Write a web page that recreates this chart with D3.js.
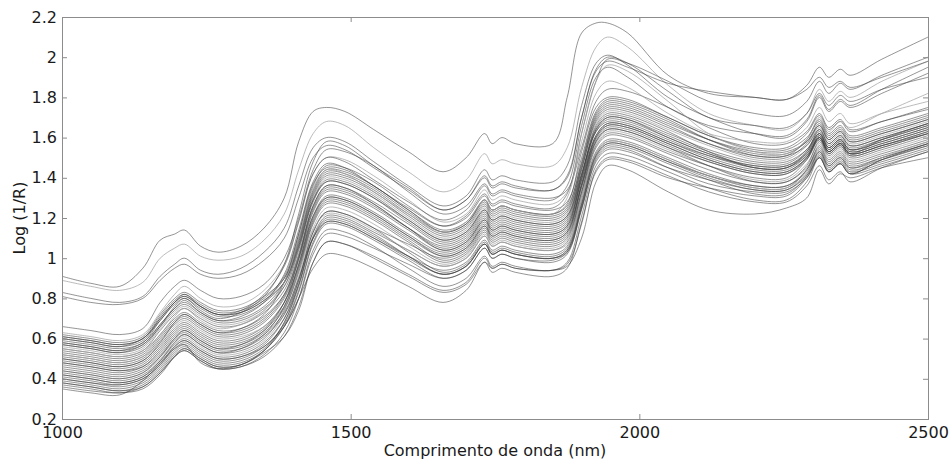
<!DOCTYPE html>
<html>
<head>
<meta charset="utf-8">
<title>Espectros NIR</title>
<script src="https://cdn.jsdelivr.net/npm/d3@7"></script>
<style>
  body { margin: 0; background: #fff; }
  .tick text { font-family: "DejaVu Sans", sans-serif; font-size: 16px; fill: #1a1a1a; }
  .tick line { stroke: #8c8c8c; }
  .frame { fill: none; stroke: #8c8c8c; stroke-width: 1; }
  .spec { fill: none; stroke: #3a3a3a; stroke-width: 0.8; stroke-opacity: 0.68; }
  .spec.light { stroke: #a0a0a0; stroke-opacity: 0.9; }
  .title { font-family: "DejaVu Sans", sans-serif; font-size: 16px; fill: #1a1a1a; }
</style>
</head>
<body>
<script>

var wavelengths = [1000,1050,1100,1140,1170,1195,1212,1240,1270,1310,1350,1385,1410,1435,1458,1490,1540,1600,1660,1700,
                   1732,1745,1762,1785,1850,1875,1900,1925,1945,1980,2050,2120,2200,2255,2290,2312,2328,2348,2365,2420,2500];

var xTicks = [1000, 1500, 2000, 2500];
var yTicks = [0.2, 0.4, 0.6, 0.8, 1.0, 1.2, 1.4, 1.6, 1.8, 2.0, 2.2];

// log(1/R) per spectrum
var specH1 = [.91,.875,.86,.95,1.09,1.12,1.14,1.06,1.03,1.06,1.15,1.30,1.58,1.73,1.75,1.73,1.64,1.53,1.43,1.50,1.62,1.57,1.60,1.57,1.57,1.80,2.12,2.17,2.17,2.12,1.91,1.82,1.80,1.79,1.86,1.95,1.90,1.94,1.91,1.99,2.10];
var specH2 = [.89,.86,.84,.88,1.00,1.05,1.07,1.01,.99,1.01,1.09,1.22,1.44,1.62,1.68,1.66,1.55,1.43,1.33,1.39,1.52,1.47,1.49,1.47,1.46,1.55,1.85,2.05,2.10,2.05,1.86,1.72,1.66,1.64,1.72,1.84,1.78,1.83,1.80,1.88,1.98];
var specH3 = [.83,.80,.78,.81,.91,.97,1.00,.94,.92,.95,1.03,1.15,1.36,1.55,1.60,1.58,1.48,1.36,1.26,1.31,1.44,1.39,1.41,1.39,1.38,1.46,1.76,1.97,2.01,1.96,1.80,1.70,1.62,1.60,1.68,1.80,1.73,1.78,1.75,1.82,1.92];
var specH4 = [.81,.78,.77,.80,.89,.95,.97,.92,.90,.92,.99,1.10,1.30,1.50,1.56,1.54,1.45,1.34,1.24,1.29,1.40,1.35,1.37,1.35,1.34,1.40,1.70,1.93,1.98,1.95,1.87,1.83,1.80,1.79,1.84,1.90,1.85,1.88,1.85,1.90,1.98];
var specH5 = [.60,.58,.56,.60,.69,.78,.82,.76,.72,.74,.82,.96,1.18,1.42,1.50,1.48,1.39,1.28,1.19,1.24,1.36,1.31,1.33,1.31,1.29,1.36,1.66,1.90,1.95,1.90,1.75,1.66,1.62,1.61,1.69,1.81,1.74,1.79,1.76,1.84,1.95];
var specH6 = [.58,.56,.54,.58,.67,.75,.79,.73,.69,.71,.78,.92,1.14,1.38,1.47,1.45,1.36,1.25,1.16,1.21,1.32,1.27,1.29,1.27,1.25,1.32,1.62,1.88,1.99,1.97,1.88,1.78,1.72,1.71,1.78,1.88,1.82,1.87,1.84,1.91,2.00];
var specH7 = [.55,.53,.51,.54,.62,.71,.75,.69,.65,.67,.74,.88,1.10,1.35,1.44,1.42,1.33,1.22,1.13,1.18,1.29,1.24,1.26,1.24,1.22,1.30,1.62,1.88,1.96,1.93,1.78,1.62,1.53,1.52,1.59,1.70,1.63,1.68,1.65,1.72,1.82];
var specH8 = [.57,.55,.53,.57,.66,.76,.80,.74,.70,.73,.81,.97,1.22,1.48,1.58,1.56,1.46,1.35,1.24,1.29,1.41,1.36,1.38,1.36,1.34,1.41,1.70,1.94,2.00,1.97,1.83,1.70,1.66,1.65,1.72,1.82,1.76,1.81,1.78,1.84,1.90];

var specS01 = [.37,.35,.33,.36,.43,.51,.54,.49,.45,.46,.52,.63,.80,1.04,1.14,1.13,1.06,.95,.86,.90,1.01,.96,.98,.96,.94,.98,1.21,1.46,1.52,1.51,1.43,1.35,1.29,1.29,1.38,1.50,1.43,1.47,1.42,1.46,1.53];
var specS02 = [.38,.36,.34,.37,.44,.52,.55,.50,.46,.47,.53,.61,.74,.98,1.08,1.07,1.00,.91,.83,.87,.98,.93,.95,.93,.91,.95,1.18,1.43,1.49,1.48,1.40,1.35,1.31,1.31,1.40,1.51,1.44,1.48,1.43,1.47,1.54];
var specS03 = [.39,.37,.35,.38,.45,.53,.56,.51,.47,.48,.54,.66,.83,1.07,1.17,1.16,1.09,.99,.90,.94,1.05,1.00,1.02,1.00,.98,1.02,1.25,1.50,1.56,1.55,1.47,1.39,1.32,1.32,1.41,1.53,1.46,1.50,1.45,1.49,1.56];
var specS04 = [.40,.38,.36,.39,.46,.54,.57,.52,.48,.49,.55,.68,.86,1.10,1.20,1.19,1.12,1.01,.92,.96,1.07,1.02,1.04,1.02,1.00,1.04,1.25,1.48,1.54,1.53,1.45,1.39,1.34,1.34,1.42,1.52,1.45,1.49,1.44,1.48,1.55];
var specS05 = [.41,.39,.37,.40,.47,.55,.58,.53,.49,.50,.56,.67,.84,1.08,1.18,1.17,1.10,1.01,.94,.98,1.09,1.04,1.06,1.04,1.02,1.06,1.29,1.53,1.59,1.58,1.50,1.42,1.36,1.36,1.44,1.54,1.47,1.51,1.46,1.50,1.57];
var specS06 = [.42,.40,.38,.41,.48,.56,.59,.54,.50,.51,.57,.70,.89,1.13,1.23,1.22,1.15,1.03,.93,.97,1.08,1.03,1.05,1.03,1.01,1.05,1.27,1.51,1.57,1.56,1.48,1.41,1.35,1.35,1.44,1.56,1.49,1.53,1.48,1.52,1.59];
var specS07 = [.43,.41,.39,.42,.49,.57,.60,.55,.51,.52,.58,.70,.87,1.11,1.21,1.20,1.13,1.04,.96,1.00,1.11,1.06,1.08,1.06,1.04,1.08,1.31,1.55,1.61,1.60,1.52,1.44,1.38,1.38,1.45,1.55,1.48,1.52,1.47,1.51,1.58];
var specS08 = [.44,.42,.40,.43,.50,.58,.61,.56,.52,.53,.59,.72,.91,1.15,1.25,1.24,1.17,1.06,.97,1.01,1.12,1.07,1.09,1.07,1.05,1.09,1.32,1.57,1.63,1.62,1.54,1.46,1.39,1.39,1.47,1.57,1.50,1.54,1.49,1.53,1.60];
var specS09 = [.45,.43,.41,.44,.51,.59,.62,.57,.53,.54,.60,.74,.93,1.17,1.27,1.26,1.19,1.08,.98,1.02,1.13,1.08,1.10,1.08,1.06,1.10,1.33,1.58,1.64,1.63,1.55,1.46,1.38,1.38,1.46,1.58,1.51,1.55,1.50,1.54,1.61];
var specS10 = [.46,.44,.42,.45,.52,.60,.63,.58,.54,.55,.61,.72,.89,1.13,1.23,1.22,1.15,1.07,1.00,1.04,1.15,1.10,1.12,1.10,1.08,1.12,1.35,1.59,1.65,1.64,1.56,1.48,1.42,1.42,1.49,1.59,1.52,1.56,1.51,1.55,1.62];
var specS11 = [.47,.45,.43,.46,.54,.62,.65,.60,.56,.57,.63,.75,.94,1.18,1.28,1.27,1.20,1.09,.99,1.03,1.14,1.09,1.11,1.09,1.07,1.11,1.33,1.56,1.62,1.61,1.53,1.46,1.40,1.40,1.49,1.60,1.53,1.57,1.52,1.56,1.63];
var specS12 = [.48,.46,.44,.47,.55,.63,.66,.61,.57,.58,.64,.76,.95,1.19,1.29,1.28,1.21,1.10,1.01,1.05,1.16,1.11,1.13,1.11,1.09,1.13,1.36,1.60,1.66,1.65,1.57,1.49,1.43,1.43,1.50,1.59,1.52,1.56,1.51,1.55,1.62];
var specS13 = [.49,.47,.45,.48,.56,.64,.67,.62,.58,.59,.65,.78,.97,1.21,1.31,1.30,1.23,1.12,1.03,1.07,1.18,1.13,1.15,1.13,1.11,1.15,1.36,1.58,1.64,1.63,1.55,1.48,1.42,1.42,1.50,1.61,1.54,1.58,1.53,1.57,1.64];
var specS14 = [.50,.48,.46,.49,.57,.65,.68,.63,.59,.60,.66,.78,.96,1.20,1.30,1.29,1.22,1.11,1.02,1.06,1.17,1.12,1.14,1.12,1.10,1.14,1.37,1.61,1.67,1.66,1.58,1.50,1.44,1.44,1.51,1.60,1.53,1.57,1.52,1.56,1.63];
var specS15 = [.51,.49,.47,.50,.59,.67,.70,.65,.61,.62,.68,.80,.99,1.23,1.33,1.32,1.25,1.14,1.04,1.08,1.19,1.14,1.16,1.14,1.12,1.16,1.39,1.63,1.69,1.68,1.60,1.52,1.45,1.45,1.52,1.62,1.55,1.59,1.54,1.58,1.65];
var specS16 = [.52,.50,.48,.51,.60,.68,.71,.66,.62,.63,.69,.81,1.00,1.24,1.34,1.33,1.26,1.15,1.06,1.10,1.21,1.16,1.18,1.16,1.14,1.18,1.39,1.61,1.67,1.66,1.58,1.51,1.46,1.46,1.52,1.61,1.54,1.58,1.53,1.57,1.64];
var specS17 = [.53,.51,.49,.52,.61,.69,.72,.67,.63,.64,.70,.82,1.02,1.26,1.36,1.35,1.28,1.17,1.07,1.11,1.22,1.17,1.19,1.17,1.15,1.19,1.41,1.64,1.70,1.69,1.61,1.53,1.47,1.47,1.54,1.63,1.56,1.60,1.55,1.59,1.66];
var specS18 = [.54,.52,.50,.53,.62,.70,.73,.68,.64,.65,.71,.82,1.01,1.25,1.35,1.34,1.27,1.15,1.05,1.09,1.20,1.15,1.17,1.15,1.13,1.17,1.41,1.66,1.72,1.71,1.63,1.53,1.45,1.45,1.53,1.64,1.57,1.61,1.56,1.60,1.67];
var specS19 = [.55,.53,.51,.54,.64,.72,.75,.70,.66,.67,.73,.84,1.04,1.28,1.38,1.37,1.30,1.18,1.08,1.12,1.23,1.18,1.20,1.18,1.16,1.20,1.42,1.65,1.71,1.70,1.62,1.54,1.48,1.48,1.54,1.62,1.55,1.59,1.54,1.58,1.65];
var specS20 = [.56,.54,.52,.55,.65,.73,.76,.71,.67,.68,.74,.86,1.06,1.30,1.40,1.39,1.32,1.20,1.10,1.14,1.25,1.20,1.22,1.20,1.18,1.22,1.44,1.67,1.73,1.72,1.64,1.56,1.49,1.49,1.56,1.65,1.58,1.62,1.57,1.61,1.68];
var specS21 = [.57,.55,.53,.56,.66,.74,.77,.72,.68,.69,.75,.86,1.05,1.29,1.39,1.38,1.31,1.19,1.09,1.13,1.24,1.19,1.21,1.19,1.17,1.21,1.44,1.69,1.75,1.74,1.66,1.57,1.50,1.50,1.57,1.66,1.59,1.63,1.58,1.62,1.69];
var specS22 = [.58,.56,.54,.57,.67,.75,.78,.73,.69,.70,.76,.88,1.08,1.32,1.42,1.41,1.34,1.22,1.12,1.16,1.27,1.22,1.24,1.22,1.20,1.24,1.45,1.68,1.74,1.73,1.65,1.57,1.51,1.51,1.56,1.64,1.57,1.61,1.56,1.60,1.67];
var specS23 = [.59,.57,.55,.58,.69,.77,.80,.75,.71,.72,.78,.88,1.07,1.31,1.41,1.40,1.33,1.21,1.11,1.15,1.26,1.21,1.23,1.21,1.19,1.23,1.46,1.71,1.77,1.76,1.68,1.59,1.52,1.52,1.58,1.67,1.60,1.64,1.59,1.63,1.70];
var specS24 = [.60,.58,.56,.59,.70,.78,.81,.76,.72,.73,.79,.90,1.10,1.34,1.44,1.43,1.36,1.24,1.14,1.18,1.29,1.24,1.26,1.24,1.22,1.26,1.47,1.70,1.76,1.75,1.67,1.59,1.53,1.53,1.58,1.66,1.59,1.63,1.58,1.62,1.69];
var specS25 = [.61,.59,.57,.60,.71,.79,.82,.77,.73,.74,.80,.91,1.12,1.36,1.46,1.45,1.38,1.26,1.16,1.20,1.31,1.26,1.28,1.26,1.24,1.28,1.50,1.73,1.79,1.78,1.70,1.61,1.54,1.54,1.60,1.68,1.61,1.65,1.60,1.64,1.71];
var specS26 = [.62,.60,.58,.61,.72,.80,.83,.78,.74,.75,.81,.90,1.09,1.33,1.43,1.42,1.35,1.23,1.13,1.17,1.28,1.23,1.25,1.23,1.21,1.25,1.48,1.72,1.78,1.77,1.69,1.59,1.51,1.51,1.59,1.69,1.62,1.66,1.61,1.65,1.72];
var specS27 = [.66,.64,.62,.65,.78,.86,.89,.84,.80,.81,.87,1.00,1.20,1.44,1.54,1.53,1.46,1.33,1.22,1.26,1.37,1.32,1.34,1.32,1.30,1.34,1.55,1.78,1.84,1.83,1.75,1.65,1.57,1.57,1.63,1.72,1.65,1.69,1.64,1.68,1.75];
var specB1  = [.35,.33,.32,.39,.48,.55,.57,.48,.45,.47,.54,.66,.80,.95,1.02,1.01,.95,.86,.78,.84,.98,.95,.97,.95,.94,.96,1.10,1.38,1.46,1.44,1.33,1.24,1.22,1.25,1.30,1.44,1.37,1.42,1.40,1.45,1.50];

var specX01 = [.44,.42,.40,.43,.51,.60,.64,.59,.55,.57,.64,.78,1.00,1.26,1.36,1.35,1.27,1.15,1.04,1.08,1.19,1.14,1.16,1.14,1.12,1.16,1.40,1.64,1.70,1.69,1.60,1.52,1.46,1.46,1.53,1.62,1.55,1.59,1.54,1.59,1.66];
var specX02 = [.40,.38,.37,.40,.47,.56,.59,.54,.50,.51,.56,.66,.80,1.02,1.12,1.11,1.05,.97,.90,.94,1.05,1.00,1.02,1.00,.99,1.03,1.26,1.52,1.58,1.57,1.49,1.41,1.36,1.36,1.43,1.53,1.46,1.50,1.45,1.50,1.57];
var specX03 = [.52,.50,.48,.51,.58,.66,.69,.64,.60,.61,.66,.76,.94,1.14,1.22,1.21,1.14,1.04,.96,1.00,1.11,1.06,1.08,1.06,1.04,1.07,1.28,1.52,1.58,1.57,1.49,1.41,1.35,1.35,1.42,1.51,1.44,1.48,1.43,1.50,1.58];
var specX04 = [.61,.59,.57,.60,.70,.78,.81,.76,.72,.73,.79,.88,1.06,1.29,1.38,1.37,1.30,1.19,1.09,1.13,1.24,1.19,1.21,1.19,1.17,1.21,1.42,1.63,1.68,1.67,1.59,1.51,1.45,1.45,1.51,1.60,1.53,1.57,1.52,1.56,1.62];
var specX05 = [.36,.34,.33,.35,.42,.51,.55,.50,.46,.47,.54,.68,.87,1.10,1.19,1.18,1.11,1.01,.92,.96,1.07,1.02,1.04,1.02,1.00,1.04,1.27,1.51,1.57,1.56,1.48,1.40,1.34,1.34,1.41,1.50,1.43,1.47,1.42,1.49,1.56];
var specX06 = [.48,.46,.44,.46,.53,.61,.64,.59,.55,.56,.62,.73,.90,1.10,1.18,1.17,1.10,1.00,.92,.96,1.07,1.02,1.04,1.02,1.00,1.03,1.24,1.49,1.55,1.54,1.45,1.37,1.33,1.33,1.40,1.50,1.43,1.47,1.42,1.49,1.57];
var specX07 = [.50,.48,.46,.49,.58,.68,.72,.67,.63,.65,.72,.88,1.12,1.37,1.45,1.44,1.36,1.24,1.13,1.17,1.29,1.24,1.26,1.24,1.22,1.27,1.53,1.75,1.80,1.79,1.70,1.61,1.55,1.55,1.62,1.71,1.64,1.68,1.63,1.68,1.74];
var specX08 = [.42,.40,.38,.41,.49,.58,.62,.57,.53,.55,.62,.76,.97,1.21,1.30,1.29,1.22,1.11,1.01,1.05,1.16,1.11,1.13,1.11,1.09,1.13,1.37,1.60,1.66,1.65,1.57,1.49,1.43,1.43,1.50,1.60,1.53,1.57,1.52,1.59,1.67];
var specX09 = [.63,.61,.59,.62,.73,.82,.86,.80,.76,.77,.84,.97,1.19,1.42,1.50,1.49,1.41,1.29,1.18,1.22,1.34,1.29,1.31,1.29,1.27,1.33,1.58,1.82,1.88,1.85,1.72,1.62,1.58,1.58,1.65,1.75,1.68,1.72,1.67,1.72,1.78];
var specX10 = [.38,.36,.34,.36,.43,.51,.54,.49,.45,.46,.51,.61,.76,.98,1.08,1.07,1.01,.92,.84,.88,1.00,.95,.97,.95,.94,.97,1.17,1.44,1.50,1.49,1.41,1.33,1.28,1.28,1.36,1.46,1.39,1.43,1.38,1.45,1.53];

var spectra = [specB1, specS01, specS02, specS03, specS04, specS05, specS06, specS07, specS08, specS09,
               specS10, specS11, specS12, specS13, specS14, specS15, specS16, specS17, specS18, specS19,
               specS20, specS21, specS22, specS23, specS24, specS25, specS26, specS27,
               specX01, specX02, specX03, specX04, specX05, specX06, specX07, specX08, specX09, specX10,
               specH1, specH2, specH3, specH4, specH5, specH6, specH7, specH8];
// the paler traces in the figure
var paleOnes = [specH2, specS08, specS20, specH7, specX03, specX09];

var margin = {top: 17, right: 23, bottom: 44, left: 62};
var width = 951 - margin.left - margin.right;
var height = 463 - margin.top - margin.bottom;

var xScale = d3.scaleLinear().domain([1000, 2500]).range([0, width]);
var yScale = d3.scaleLinear().domain([0.2, 2.2]).range([height, 0]);

var svg = d3.select('body')
            .append('svg')
            .attr('width', width + margin.left + margin.right)
            .attr('height', height + margin.top + margin.bottom)
            .append('g')
            .attr('transform', 'translate(' + margin.left + ',' + margin.top + ')');

svg.append('clipPath').attr('id', 'plotclip')
   .append('rect').attr('width', width).attr('height', height);

var line = d3.line()
             .x(function(d, i) { return xScale(wavelengths[i]); })
             .y(function(d) { return yScale(d); })
             .curve(d3.curveCatmullRom.alpha(0.5));

svg.append('g')
   .attr('clip-path', 'url(#plotclip)')
   .selectAll('.spec')
   .data(spectra)
   .enter()
   .append('path')
   .attr('class', function(d) { return paleOnes.indexOf(d) >= 0 ? 'spec light' : 'spec'; })
   .attr('d', line);

var fmtY = function(d) { return String(+d.toFixed(1)); };

// axes, ticks pointing inward on all four sides
svg.append('g')
   .attr('transform', 'translate(0,' + height + ')')
   .call(d3.axisBottom(xScale).tickValues(xTicks).tickSize(-5).tickPadding(8).tickFormat(d3.format('d')))
   .call(function(g) { g.select('.domain').remove(); });
svg.append('g')
   .call(d3.axisTop(xScale).tickValues(xTicks).tickSize(-5).tickFormat(''))
   .call(function(g) { g.select('.domain').remove(); });
svg.append('g')
   .call(d3.axisLeft(yScale).tickValues(yTicks).tickSize(-5).tickPadding(5).tickFormat(fmtY))
   .call(function(g) { g.select('.domain').remove(); });
svg.append('g')
   .attr('transform', 'translate(' + width + ',0)')
   .call(d3.axisRight(yScale).tickValues(yTicks).tickSize(-5).tickFormat(''))
   .call(function(g) { g.select('.domain').remove(); });

svg.append('rect').attr('class', 'frame')
   .attr('x', 0.5).attr('y', 0.5)
   .attr('width', width).attr('height', height);

svg.append('text').attr('class', 'title')
   .attr('x', width / 2)
   .attr('y', height + 37)
   .attr('text-anchor', 'middle')
   .text('Comprimento de onda (nm)');

svg.append('text').attr('class', 'title')
   .attr('transform', 'translate(' + (25 - margin.left) + ',' + (218 - margin.top) + ') rotate(-90)')
   .attr('text-anchor', 'middle')
   .text('Log (1/R)');

</script>
</body>
</html>
